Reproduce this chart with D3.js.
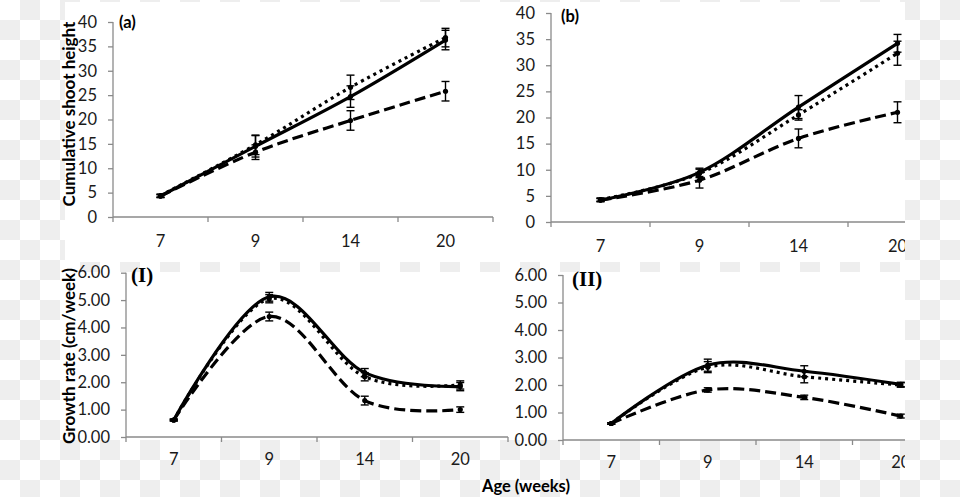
<!DOCTYPE html>
<html>
<head>
<meta charset="utf-8">
<script src="https://cdn.jsdelivr.net/npm/d3@7"></script>
<style>
  html, body { margin: 0; padding: 0; background: #fff; }
  svg { display: block; }
</style>
</head>
<body>
<svg id="chart" width="960" height="497"></svg>
<script>
// ---------------- DATA ----------------
const categories = ["7", "9", "14", "20"];

// Panel (a): cumulative shoot height
const aSolid      = [4.3, 14.5, 24.7, 36.3];
const aSolidErr   = [0.3, 2.2, 2.2, 2.0];
const aDotted     = [4.4, 14.8, 26.6, 36.8];
const aDottedErr  = [0.3, 2.0, 2.5, 1.9];
const aDashed     = [4.3, 13.3, 19.8, 25.8];
const aDashedErr  = [0.3, 1.5, 2.0, 2.0];

// Panel (b): cumulative shoot height
const bSolid      = [4.2, 9.5, 22.0, 34.2];
const bSolidErr   = [0.3, 0.8, 2.2, 1.7];
const bDotted     = [4.3, 9.3, 20.5, 32.3];
const bDottedErr  = [0.3, 0.8, 1.0, 2.3];
const bDashed     = [4.2, 8.0, 16.0, 21.0];
const bDashedErr  = [0.3, 1.5, 1.8, 2.0];

// Panel (I): growth rate
const iSolid      = [0.62, 5.12, 2.35, 1.84];
const iSolidErr   = [0.03, 0.16, 0.15, 0.15];
const iDotted     = [0.62, 5.05, 2.2, 1.9];
const iDottedErr  = [0.03, 0.15, 0.15, 0.15];
const iDashed     = [0.62, 4.4, 1.33, 1.0];
const iDashedErr  = [0.03, 0.16, 0.16, 0.1];

// Panel (II): growth rate
const iiSolid     = [0.6, 2.72, 2.5, 2.02];
const iiSolidErr  = [0.03, 0.22, 0.2, 0.08];
const iiDotted    = [0.6, 2.65, 2.3, 2.0];
const iiDottedErr = [0.03, 0.2, 0.22, 0.08];
const iiDashed    = [0.6, 1.82, 1.55, 0.87];
const iiDashedErr = [0.03, 0.08, 0.08, 0.07];

const heightTicks = [0, 5, 10, 15, 20, 25, 30, 35, 40];
const rateTicks   = [0, 1, 2, 3, 4, 5, 6];

const yTitleTop    = "Cumulative shoot height";
const yTitleBottom = "Growth rate (cm/week)";
const xTitle       = "Age (weeks)";

// ---------------- DRAW ----------------
const svg = d3.select("#chart");
const defs = svg.append("defs");

// checkerboard (transparency pattern in the original image)
const pat = defs.append("pattern").attr("id", "checker")
  .attr("width", 40).attr("height", 40).attr("patternUnits", "userSpaceOnUse");
pat.append("rect").attr("width", 40).attr("height", 40).attr("fill", "#ffffff");
pat.append("rect").attr("x", 20).attr("y", 0).attr("width", 20).attr("height", 20).attr("fill", "#eeeeee");
pat.append("rect").attr("x", 0).attr("y", 20).attr("width", 20).attr("height", 20).attr("fill", "#eeeeee");

svg.append("rect").attr("width", 960).attr("height", 497).attr("fill", "url(#checker)");
// white chart backgrounds
svg.append("rect").attr("x", 65).attr("y", 2).attr("width", 840).attr("height", 260).attr("fill", "#fff");
svg.append("rect").attr("x", 60).attr("y", 272).attr("width", 845).attr("height", 168).attr("fill", "#fff");

const FONT = "Lato, 'Open Sans', sans-serif";
const AXIS = "#8a8a8a";

function panel(cfg) {
  const g = svg.append("g");
  const clipId = "clip" + cfg.id;
  defs.append("clipPath").attr("id", clipId)
    .append("rect").attr("x", 0).attr("y", 0).attr("width", cfg.clipRight).attr("height", 497);
  g.attr("clip-path", `url(#${clipId})`);

  const x = d3.scaleBand().domain(categories).range([cfg.x0, cfg.x1]).paddingInner(0).paddingOuter(0);
  const y = d3.scaleLinear().domain(cfg.domain).range([cfg.yBot, cfg.yTop]);

  // y axis
  const ya = g.append("g").attr("transform", `translate(${cfg.x0},0)`)
    .call(d3.axisLeft(y).tickValues(cfg.ticks).tickSize(5).tickPadding(11).tickFormat(cfg.fmt));
  ya.select(".domain").attr("stroke", AXIS).attr("stroke-width", 1.3)
    .attr("d", `M0,${cfg.yTop}V${cfg.yBot}`);
  ya.selectAll(".tick line").attr("stroke", AXIS).attr("stroke-width", 1.3);
  ya.selectAll(".tick text").attr("fill", "#1a1a1a").style("font", `16.5px ${FONT}`);

  // x axis (labels centred in categories, ticks at boundaries)
  const xa = g.append("g").attr("transform", `translate(0,${cfg.yBot})`)
    .call(d3.axisBottom(x).tickSize(0).tickPadding(0));
  xa.select(".domain").attr("stroke", AXIS).attr("stroke-width", 1.3)
    .attr("d", `M${cfg.x0},0H${cfg.x1}`);
  xa.selectAll(".tick text").attr("fill", "#1a1a1a").style("font", `16.5px ${FONT}`)
    .attr("dy", null).attr("y", cfg.labelY - cfg.yBot);
  const bounds = categories.map(c => x(c)).concat([cfg.x1]);
  xa.selectAll(".bnd").data(bounds).enter().append("line")
    .attr("x1", d => d).attr("x2", d => d).attr("y1", 0).attr("y2", 5)
    .attr("stroke", AXIS).attr("stroke-width", 1.3);

  const cx = c => x(c) + x.bandwidth() / 2;
  const line = d3.line().x((d, i) => cx(categories[i])).y(d => y(d)).curve(d3.curveCardinal.tension(0));

  const styles = {
    solid:  { dash: null },
    dotted: { dash: "3,4" },
    dashed: { dash: "11,5" }
  };

  // error bars first
  cfg.series.forEach(s => {
    s.values.forEach((v, i) => {
      const xx = cx(categories[i]);
      const e = s.err[i];
      const eg = g.append("g").attr("stroke", "#000").attr("stroke-width", 1.4);
      eg.append("line").attr("x1", xx).attr("x2", xx).attr("y1", y(v - e)).attr("y2", y(v + e));
      eg.append("line").attr("x1", xx - 4).attr("x2", xx + 4).attr("y1", y(v - e)).attr("y2", y(v - e));
      eg.append("line").attr("x1", xx - 4).attr("x2", xx + 4).attr("y1", y(v + e)).attr("y2", y(v + e));
    });
  });

  cfg.series.forEach(s => {
    g.append("path").datum(s.values)
      .attr("d", line)
      .attr("fill", "none").attr("stroke", "#000").attr("stroke-width", 3.2)
      .attr("stroke-dasharray", styles[s.style].dash);
    g.selectAll(null).data(s.values).enter().append("circle")
      .attr("cx", (d, i) => cx(categories[i])).attr("cy", d => y(d)).attr("r", 2.6).attr("fill", "#000");
  });

  // panel label
  g.append("text").attr("x", cfg.lx).attr("y", cfg.ly).text(cfg.label)
    .style("font", cfg.labelFont).attr("fill", "#000");
}

panel({
  id: "a", x0: 113, x1: 493, yTop: 22, yBot: 217, domain: [0, 40], ticks: heightTicks,
  fmt: d3.format("d"), labelY: 247, clipRight: 960,
  label: "(a)", lx: 119, ly: 28, labelFont: `bold 16.5px ${FONT}`,
  series: [
    { style: "dotted", values: aDotted, err: aDottedErr },
    { style: "dashed", values: aDashed, err: aDashedErr },
    { style: "solid",  values: aSolid,  err: aSolidErr }
  ]
});

panel({
  id: "b", x0: 551, x1: 947, yTop: 13, yBot: 222, domain: [0, 40], ticks: heightTicks,
  fmt: d3.format("d"), labelY: 252, clipRight: 905,
  label: "(b)", lx: 561, ly: 22, labelFont: `bold 16.5px ${FONT}`,
  series: [
    { style: "dotted", values: bDotted, err: bDottedErr },
    { style: "dashed", values: bDashed, err: bDashedErr },
    { style: "solid",  values: bSolid,  err: bSolidErr }
  ]
});

panel({
  id: "I", x0: 126, x1: 508, yTop: 272.7, yBot: 437, domain: [0, 6], ticks: rateTicks,
  fmt: d3.format(".2f"), labelY: 465, clipRight: 960,
  label: "(I)", lx: 131, ly: 282, labelFont: "bold 21px 'Liberation Serif', 'DejaVu Serif', serif",
  series: [
    { style: "dotted", values: iDotted, err: iDottedErr },
    { style: "dashed", values: iDashed, err: iDashedErr },
    { style: "solid",  values: iSolid,  err: iSolidErr }
  ]
});

panel({
  id: "II", x0: 563, x1: 949, yTop: 275, yBot: 440, domain: [0, 6], ticks: rateTicks,
  fmt: d3.format(".2f"), labelY: 468, clipRight: 905,
  label: "(II)", lx: 572, ly: 286, labelFont: "bold 21px 'Liberation Serif', 'DejaVu Serif', serif",
  series: [
    { style: "dotted", values: iiDotted, err: iiDottedErr },
    { style: "dashed", values: iiDashed, err: iiDashedErr },
    { style: "solid",  values: iiSolid,  err: iiSolidErr }
  ]
});

// axis titles
svg.append("text").attr("transform", "translate(75,114) rotate(-90)")
  .attr("text-anchor", "middle").style("font", `bold 17px ${FONT}`).attr("fill", "#000").text(yTitleTop);
svg.append("text").attr("transform", "translate(75,356) rotate(-90)")
  .attr("text-anchor", "middle").style("font", `bold 17px ${FONT}`).attr("fill", "#000").text(yTitleBottom);
svg.append("text").attr("x", 526).attr("y", 492)
  .attr("text-anchor", "middle").style("font", `bold 16.5px ${FONT}`).attr("fill", "#000").text(xTitle);
</script>
</body>
</html>
